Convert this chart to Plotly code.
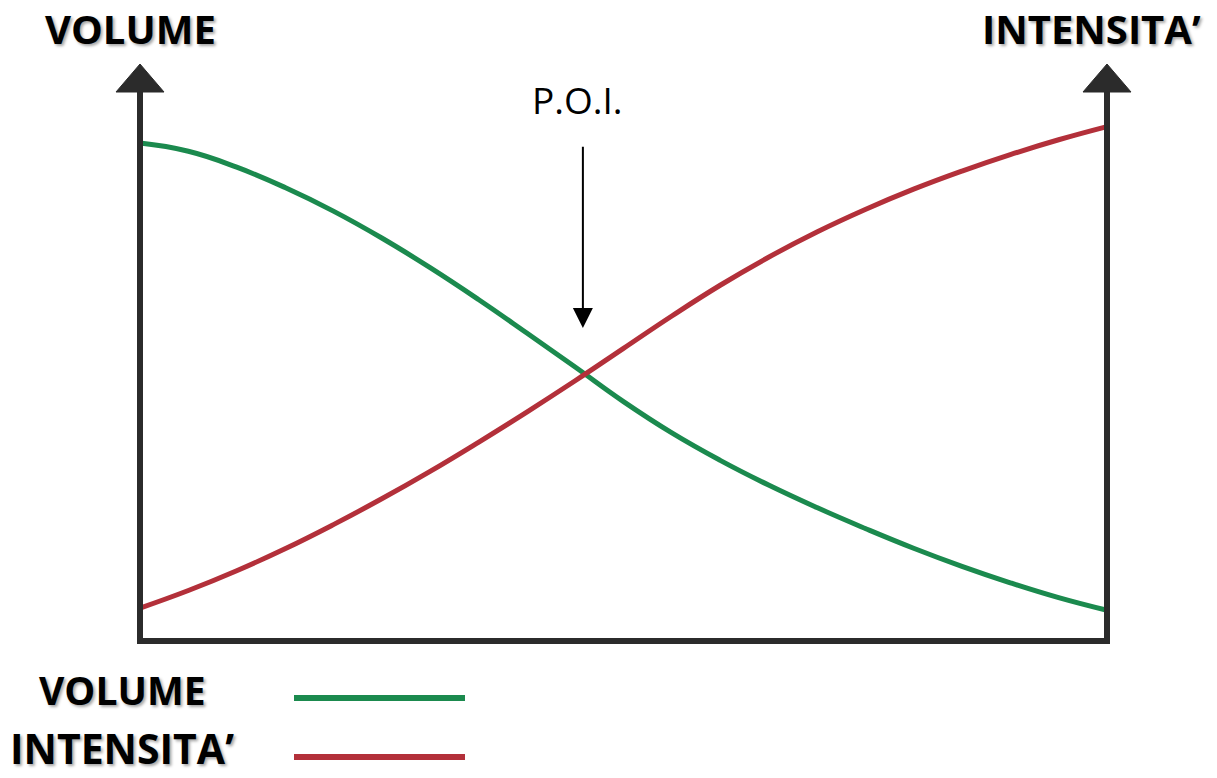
import plotly.graph_objects as go

# ---- data (x and y in 0-100 units) ----
x_vals = [0, 5, 10, 15, 20, 25, 30, 35, 40, 45, 50, 55, 60, 65, 70, 75, 80, 85, 90, 95, 100]
volume = [90.7, 89.2, 86.3, 82.6, 78.3, 73.4, 68.0, 62.2, 56.1, 49.9, 43.6, 37.9, 32.9, 28.4,
          24.3, 20.5, 16.9, 13.6, 10.6, 7.9, 5.6]
intensita = [6.0, 9.2, 12.8, 16.8, 21.2, 25.9, 30.9, 36.2, 41.7, 47.4, 53.3, 59.2, 64.8, 69.9,
             74.5, 78.6, 82.3, 85.6, 88.6, 91.3, 93.7]
series_names = ["VOLUME", "INTENSITA’"]
poi_label = "P.O.I."
poi_x = 45.8
poi_tip_y = 57.0
poi_tail_y = 90.3

# ---- styling / layout ----
W, H = 1217, 778
GREEN = "#1b8a4e"
RED = "#b3303a"
AXIS = "#2b2b2b"
FONT = "Open Sans"

# pixel mapping of data units
X0_PX, X100_PX = 140, 1107
Y0_PX, Y100_PX = 641, 92
sx = (X100_PX - X0_PX) / 100.0
sy = (Y0_PX - Y100_PX) / 100.0
x_range = [-X0_PX / sx, (W - X0_PX) / sx]
y_range = [-(H - Y0_PX) / sy, Y0_PX / sy]


def px(xp):
    return xp / W


def py(yp):
    return 1 - yp / H


fig = go.Figure()
fig.add_trace(go.Scatter(x=x_vals, y=volume, mode="lines", name=series_names[0],
                         line=dict(color=GREEN, width=5, shape="spline", smoothing=1.3),
                         hoverinfo="skip", cliponaxis=False))
fig.add_trace(go.Scatter(x=x_vals, y=intensita, mode="lines", name=series_names[1],
                         line=dict(color=RED, width=5, shape="spline", smoothing=1.3),
                         hoverinfo="skip", cliponaxis=False))

shapes = []
ext_x = 3 / sx
ext_y = 3 / sy
# axes lines
shapes.append(dict(type="line", xref="x", yref="y", x0=-ext_x, x1=100 + ext_x, y0=0, y1=0,
                   line=dict(color=AXIS, width=6)))
for xv in (0, 100):
    shapes.append(dict(type="line", xref="x", yref="y", x0=xv, x1=xv, y0=-ext_y, y1=100,
                       line=dict(color=AXIS, width=6)))
    hw = 24 / sx
    top = 100 + 28 / sy
    shapes.append(dict(type="path", xref="x", yref="y",
                       path=f"M {xv - hw} 100 L {xv + hw} 100 L {xv} {top} Z",
                       fillcolor=AXIS, line=dict(color=AXIS, width=1)))

# legend lines
shapes.append(dict(type="line", xref="paper", yref="paper", x0=px(294), x1=px(465),
                   y0=py(698), y1=py(698), line=dict(color=GREEN, width=6)))
shapes.append(dict(type="line", xref="paper", yref="paper", x0=px(294), x1=px(465),
                   y0=py(757), y1=py(757), line=dict(color=RED, width=6)))

shadow = "2px 2px 3px rgba(0,0,0,0.35)"


def bold(size):
    return dict(family=FONT, size=size, color="#000000", weight=700, shadow=shadow)


annotations = [
    dict(text=series_names[0], xref="paper", yref="paper", x=px(130), y=py(28.5),
         xanchor="center", yanchor="middle", showarrow=False, font=bold(40)),
    dict(text=series_names[1], xref="paper", yref="paper", x=px(1091), y=py(28.5),
         xanchor="center", yanchor="middle", showarrow=False, font=bold(40)),
    dict(text=series_names[0], xref="paper", yref="paper", x=px(122), y=py(689),
         xanchor="center", yanchor="middle", showarrow=False, font=bold(39)),
    dict(text=series_names[1], xref="paper", yref="paper", x=px(122), y=py(748),
         xanchor="center", yanchor="middle", showarrow=False, font=bold(41)),
    dict(text=poi_label, xref="paper", yref="paper", x=px(577), y=py(100),
         xanchor="center", yanchor="middle", showarrow=False,
         font=dict(family=FONT, size=37, color="#000000")),
    dict(text="", xref="x", yref="y", x=poi_x, y=poi_tip_y, axref="x", ayref="y",
         ax=poi_x, ay=poi_tail_y, showarrow=True, arrowhead=2, arrowsize=2,
         arrowwidth=2, arrowcolor="#000000"),
]

fig.update_layout(
    width=W, height=H,
    margin=dict(l=0, r=0, t=0, b=0),
    paper_bgcolor="white", plot_bgcolor="white",
    showlegend=False,
    xaxis=dict(range=x_range, visible=False, fixedrange=True),
    yaxis=dict(range=y_range, visible=False, fixedrange=True),
    shapes=shapes,
    annotations=annotations,
)

fig.write_html("out.html", config={"displayModeBar": False},
               post_script="document.body.style.margin='0';")
